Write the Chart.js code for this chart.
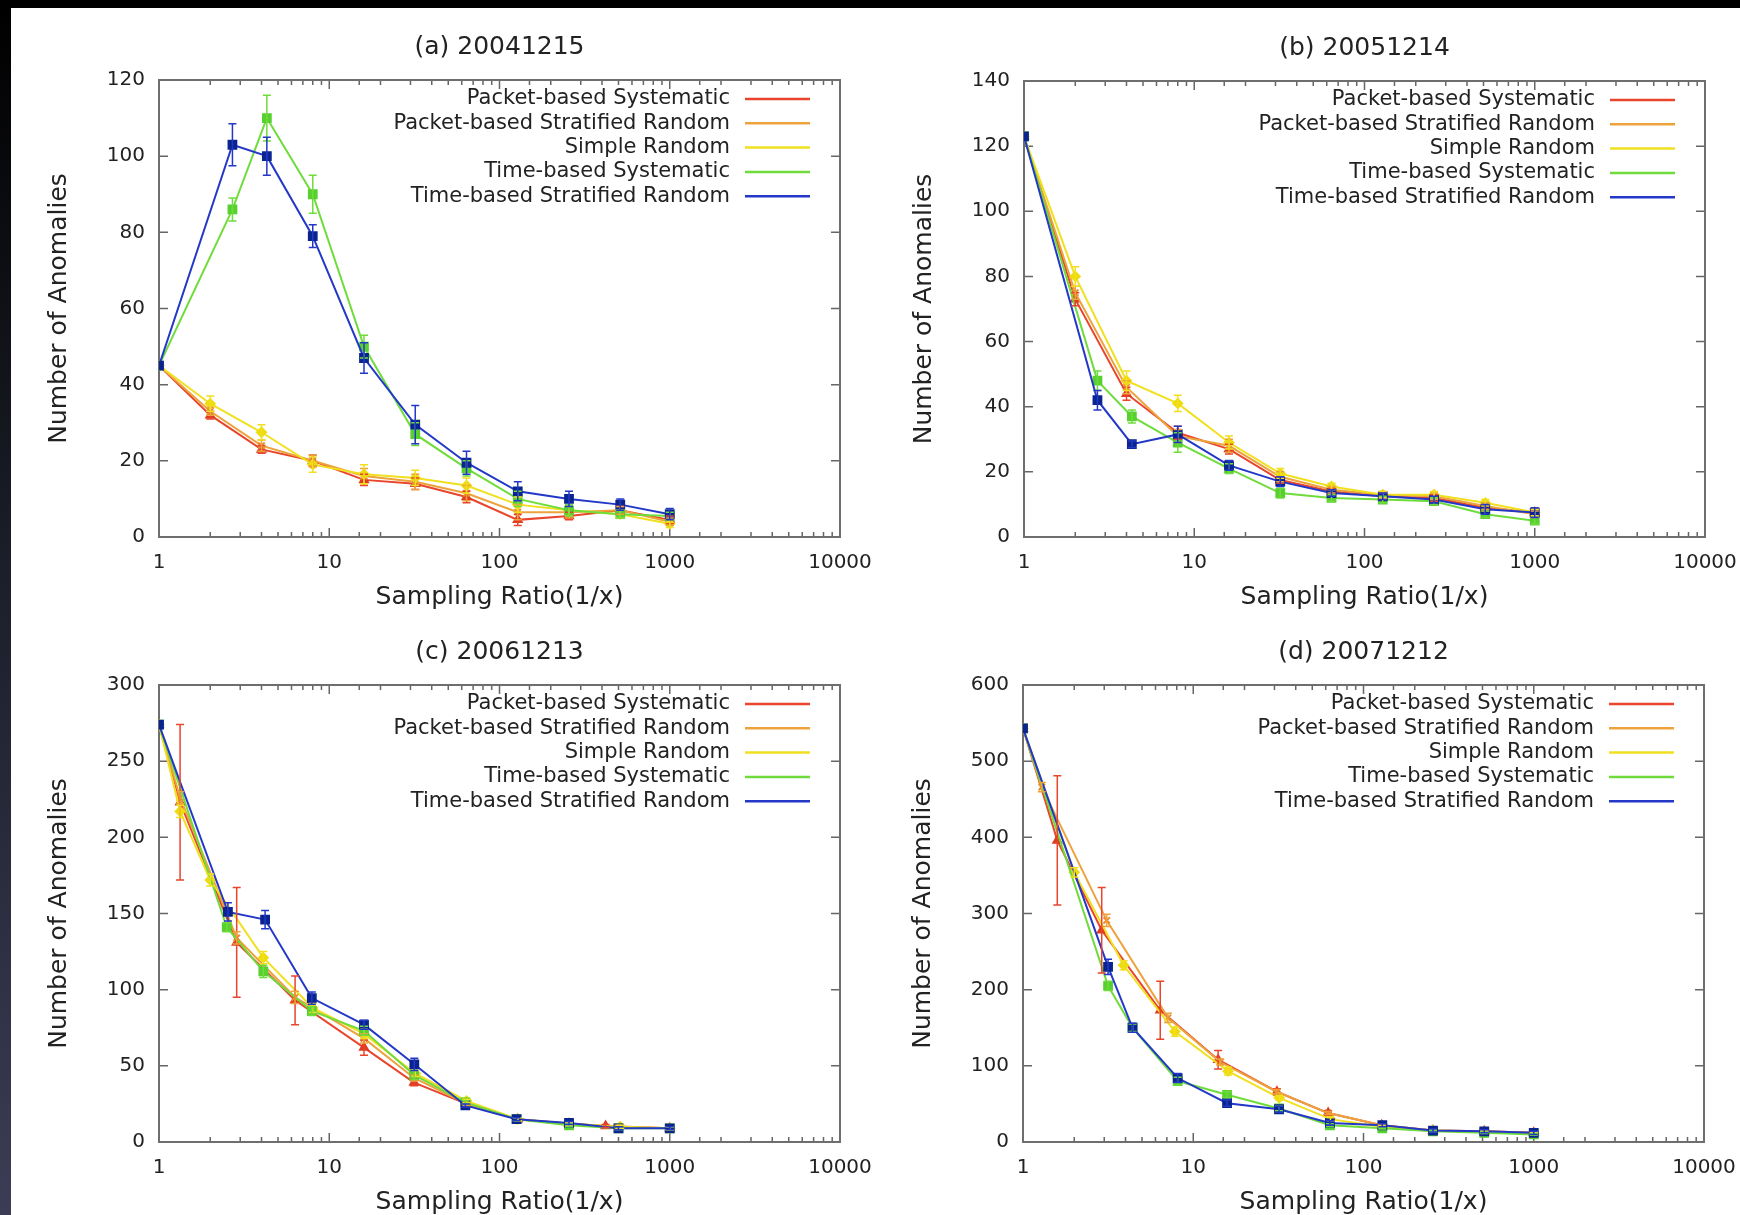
<!DOCTYPE html>
<html>

<head>
    <meta charset="utf-8">
    <title>Number of Anomalies vs Sampling Ratio</title>
    <style>
        html, body { margin: 0; padding: 0; }
        body { width: 1740px; height: 1215px; overflow: hidden; background: #fff; position: relative; }
        #topband { position: absolute; left: 0; top: 0; width: 1740px; height: 8px; background: #000; }
        #leftband { position: absolute; left: 0; top: 0; width: 11px; height: 1215px; background: linear-gradient(#000 0%, #15171f 35%, #3a3d55 100%); }
        canvas { position: absolute; }
    </style>
</head>

<body>
    <div id="topband"></div>
    <div id="leftband"></div>
    <canvas id="chartA" width="900" height="630" style="left:0px;top:0px"></canvas>
    <canvas id="chartB" width="900" height="630" style="left:870px;top:0px"></canvas>
    <canvas id="chartC" width="900" height="630" style="left:0px;top:600px"></canvas>
    <canvas id="chartD" width="900" height="630" style="left:870px;top:600px"></canvas>

    <script src="https://cdn.jsdelivr.net/npm/chart.js@4.4.1/dist/chart.umd.min.js"></script>
    <script type="text/javascript">
        // series names (legend order)
        const seriesNames = ['Packet-based Systematic', 'Packet-based Stratified Random', 'Simple Random',
            'Time-based Systematic', 'Time-based Stratified Random'];
        const panelTitles = ['(a) 20041215', '(b) 20051214', '(c) 20061213', '(d) 20071212'];
        const xTickLabels = [1, 10, 100, 1000, 10000];
        const yMax = [120, 140, 300, 600];
        const yStep = [20, 20, 50, 100];

        // each point: [sampling ratio, anomalies, error]
        // (a) 20041215
        const a_pktSys = [[1, 45, 0], [2, 32, 1], [4, 23, 1], [8, 20, 1.5], [16, 15, 1.5], [32, 14, 1.5], [64, 10.5, 1.5], [128, 4.5, 1.5], [256, 5.5, 1], [512, 7, 1], [1000, 4.5, 1]];
        const a_pktStr = [[1, 45, 0], [2, 33, 1], [4, 24, 1.5], [8, 20, 1.5], [16, 16, 2], [32, 14.5, 2], [64, 11.5, 2], [128, 6.5, 2], [256, 6.5, 1.5], [512, 7, 1], [1000, 4, 1]];
        const a_simRnd = [[1, 45, 0], [2, 35, 2], [4, 27.5, 2], [8, 19, 2], [16, 16.5, 2.5], [32, 15.5, 2], [64, 13.5, 2], [128, 8.5, 2], [256, 7, 1.5], [512, 6, 1], [1000, 3.5, 1]];
        const a_timSys = [[1, 45, 0], [2.7, 86, 3], [4.3, 110, 6], [8, 90, 5], [16, 50, 3], [32, 27, 3], [64, 18, 2], [128, 10, 2], [256, 7, 1.5], [512, 6, 1], [1000, 5.5, 1]];
        const a_timStr = [[1, 45, 0], [2.7, 103, 5.5], [4.3, 100, 5], [8, 79, 3], [16, 47, 4], [32, 29.5, 5], [64, 19.5, 3], [128, 12, 2.5], [256, 10, 2], [512, 8.5, 1.5], [1000, 6, 1.5]];
        // (b) 20051214
        const b_pktSys = [[1, 123, 0], [2, 73, 2], [4, 44, 2], [8, 32, 2], [16, 27, 1.5], [32, 17.5, 1], [64, 14, 1], [128, 12.5, 1], [256, 12, 1], [512, 9, 1], [1000, 7.5, 1]];
        const b_pktStr = [[1, 123, 0], [2, 75, 2], [4, 46, 2], [8, 31, 2], [16, 28, 2], [32, 18.5, 1.5], [64, 14.5, 1], [128, 13, 1], [256, 12.5, 1], [512, 9.5, 1], [1000, 7, 1]];
        const b_simRnd = [[1, 123, 0], [2, 80, 3], [4, 48, 3], [8, 41, 2.5], [16, 29, 2], [32, 19.5, 1.5], [64, 15.5, 1], [128, 13, 1], [256, 13, 1], [512, 10.5, 1], [1000, 7.5, 1]];
        const b_timSys = [[1, 123, 0], [2.7, 48, 3], [4.3, 37, 2], [8, 29, 3], [16, 21, 1.5], [32, 13.5, 1.5], [64, 12, 1], [128, 11.5, 1], [256, 11, 1], [512, 7, 1], [1000, 5, 1]];
        const b_timStr = [[1, 123, 0], [2.7, 42, 3], [4.3, 28.5, 1], [8, 31.5, 2.5], [16, 22, 1.5], [32, 17, 1.5], [64, 13.5, 1], [128, 12.5, 1], [256, 11.5, 1], [512, 8.5, 1.5], [1000, 7.5, 1.5]];
        // (c) 20061213
        const c_pktSys = [[1, 274, 0], [1.33, 223, 51], [2.86, 131, 36], [6.3, 93, 16], [16, 62, 5], [31.5, 39, 2], [64, 25, 1], [128, 15, 1], [256, 12, 1], [420, 10.5, 1], [1000, 9, 1]];
        const c_pktStr = [[1, 274, 0], [1.33, 226, 4], [2.86, 134, 4], [6.3, 95, 4], [16, 68, 3], [31.5, 42, 2], [64, 25, 1], [128, 15, 1], [256, 12, 1], [500, 10, 1], [1000, 9, 1]];
        const c_simRnd = [[1, 274, 0], [1.33, 217, 4], [2, 172, 4], [4.1, 121, 4], [8, 88, 3], [16, 71, 3], [32, 45, 2], [64, 27, 1], [128, 15, 1], [256, 12, 1], [512, 10, 1], [1000, 9, 1]];
        const c_timSys = [[1, 274, 0], [2.5, 141, 3], [4.1, 112, 4], [7.9, 86, 3], [16, 73, 3], [31.5, 44, 3], [63, 26, 1], [126, 15, 1], [256, 11, 1], [500, 9, 1], [1000, 9, 1]];
        const c_timStr = [[1, 274, 0], [2.54, 151, 6], [4.2, 146, 6], [7.9, 94.5, 4], [16, 77, 3], [31.6, 51, 4], [63, 24, 1], [126, 15, 1], [256, 12.5, 1], [500, 9, 1], [1000, 9, 1]];
        // (d) 20071212
        const d_pktSys = [[1, 543, 0], [1.59, 396, 85], [2.9, 278, 56], [6.4, 173, 38], [14, 108, 12], [31, 66, 4], [62, 38, 3], [128, 22, 1], [256, 15, 1], [512, 14, 1], [1000, 12, 1]];
        const d_pktStr = [[1, 543, 0], [1.29, 466, 6], [3.1, 291, 8], [7.1, 163, 6], [14.4, 105, 4], [31, 66, 3], [62, 38, 2], [128, 22, 1], [256, 15, 1], [512, 14, 1], [1000, 12, 1]];
        const d_simRnd = [[1, 543, 0], [2, 354, 6], [3.9, 232, 6], [7.8, 145, 6], [16, 93, 5], [32, 58, 3], [64, 30, 2], [128, 20, 1], [256, 15, 1], [512, 13, 1], [1000, 11, 1]];
        const d_timSys = [[1, 543, 0], [3.16, 205, 6], [4.4, 150, 5], [8.1, 80, 5], [15.8, 62, 4], [31.9, 44, 3], [63.5, 22, 2], [129, 18, 1], [256, 14, 1], [512, 12, 1], [1000, 10, 1]];
        const d_timStr = [[1, 543, 0], [3.16, 230, 10], [4.4, 150, 6], [8.1, 84, 6], [15.8, 51, 4], [31.9, 43, 4], [63.5, 25, 3], [129, 22, 2], [256, 15, 2], [512, 14, 2], [1000, 12, 2]];

        const lineColors = ['#e8452c', '#eda23c', '#f0e020', '#6fdc3c', '#2438c8'];
        const markColors = ['#e03a20', '#e89030', '#eedc10', '#58d030', '#0a2590'];
        const markStyles = ['triangle', 'crossRot', 'rectRot', 'rect', 'rect'];
        const drawOrder = [4, 3, 2, 1, 0];

        Chart.defaults.font.family = "'DejaVu Sans', sans-serif";
        Chart.defaults.color = '#222';

        function isDecade(v) {
            const l = Math.log10(v);
            return Math.abs(l - Math.round(l)) < 1e-9;
        }

        // gnuplot style border with inward ticks
        const frameTicks = {
            id: 'frameTicks',
            beforeDatasetsDraw(chart) {
                const { ctx, chartArea: a, scales: { x, y } } = chart;
                ctx.save();
                ctx.strokeStyle = '#666';
                ctx.lineWidth = 1.5;
                ctx.beginPath();
                x.ticks.forEach(t => {
                    const px = x.getPixelForValue(t.value);
                    const len = isDecade(t.value) ? 9 : 5;
                    ctx.moveTo(px, a.bottom); ctx.lineTo(px, a.bottom - len);
                    ctx.moveTo(px, a.top); ctx.lineTo(px, a.top + len);
                });
                y.ticks.forEach(t => {
                    const py = y.getPixelForValue(t.value);
                    ctx.moveTo(a.left, py); ctx.lineTo(a.left + 9, py);
                    ctx.moveTo(a.right, py); ctx.lineTo(a.right - 9, py);
                });
                ctx.stroke();
                ctx.lineWidth = 2;
                ctx.strokeStyle = '#6e6e6e';
                ctx.strokeRect(a.left, a.top, a.right - a.left, a.bottom - a.top);
                ctx.restore();
            }
        };

        const errorBars = {
            id: 'errorBars',
            afterDatasetsDraw(chart) {
                const { ctx, scales: { x, y } } = chart;
                ctx.save();
                ctx.lineWidth = 1.5;
                chart.data.datasets.forEach(ds => {
                    ctx.strokeStyle = ds.borderColor;
                    ctx.beginPath();
                    ds.errs.forEach((e, j) => {
                        if (!e) return;
                        const p = ds.data[j];
                        const px = x.getPixelForValue(p.x);
                        const lo = y.getPixelForValue(p.y - e);
                        const hi = y.getPixelForValue(p.y + e);
                        ctx.moveTo(px, lo); ctx.lineTo(px, hi);
                        ctx.moveTo(px - 4, lo); ctx.lineTo(px + 4, lo);
                        ctx.moveTo(px - 4, hi); ctx.lineTo(px + 4, hi);
                    });
                    ctx.stroke();
                });
                ctx.restore();
            }
        };

        // panel title and key drawn inside the plot, like gnuplot
        const panelKey = {
            id: 'panelKey',
            afterDraw(chart, args, opts) {
                const { ctx, chartArea: a } = chart;
                ctx.save();
                ctx.fillStyle = '#222';
                ctx.textAlign = 'center';
                ctx.textBaseline = 'middle';
                ctx.font = "25px 'DejaVu Sans'";
                ctx.fillText(opts.title, (a.left + a.right) / 2, a.top - 33);
                ctx.font = "21px 'DejaVu Sans'";
                ctx.textAlign = 'right';
                ctx.lineWidth = 2.5;
                chart.data.datasets.forEach((ds, i) => {
                    const yy = a.top + 19 + i * 24.3;
                    ctx.fillText(ds.label, a.right - 110, yy);
                    ctx.strokeStyle = ds.borderColor;
                    ctx.beginPath();
                    ctx.moveTo(a.right - 95, yy); ctx.lineTo(a.right - 30, yy);
                    ctx.stroke();
                });
                ctx.restore();
            }
        };

        function makePanel(id, idx, series, cv, fr) {
            const datasets = series.map((s, i) => ({
                label: seriesNames[i],
                data: s.map(p => ({ x: p[0], y: p[1] })),
                errs: s.map(p => p[2]),
                borderColor: lineColors[i],
                backgroundColor: markColors[i],
                pointBorderColor: markColors[i],
                pointStyle: markStyles[i],
                pointRadius: i >= 3 ? 5.5 : 4.5,
                pointBorderWidth: 2,
                borderWidth: 2,
                order: drawOrder[i],
                tension: 0
            }));
            return new Chart(document.getElementById(id), {
                type: 'line',
                data: { datasets: datasets },
                options: {
                    responsive: false,
                    animation: false,
                    layout: { padding: { left: 0, top: fr.t - cv.y, right: cv.x + cv.w - fr.r, bottom: 0 } },
                    scales: {
                        x: {
                            type: 'logarithmic',
                            min: 1,
                            max: 10000,
                            grid: { display: false, drawTicks: false },
                            border: { display: false },
                            ticks: {
                                autoSkip: false,
                                maxRotation: 0,
                                padding: 14,
                                font: { size: 20 },
                                callback: v => (xTickLabels.includes(v) ? String(v) : '')
                            },
                            title: {
                                display: true,
                                text: 'Sampling Ratio(1/x)',
                                font: { size: 25 },
                                padding: { top: 0, bottom: (cv.y + cv.h) - (fr.b + 60) - 15 }
                            },
                            afterFit: s => { s.height = cv.y + cv.h - fr.b; }
                        },
                        y: {
                            min: 0,
                            max: yMax[idx],
                            grid: { display: false, drawTicks: false },
                            border: { display: false },
                            ticks: { stepSize: yStep[idx], padding: 14, font: { size: 20 } },
                            title: {
                                display: true,
                                text: 'Number of Anomalies',
                                font: { size: 25 },
                                padding: { top: (fr.l - 100 - cv.x) - 15, bottom: 0 }
                            },
                            afterFit: s => { s.width = fr.l - cv.x; }
                        }
                    },
                    plugins: {
                        legend: { display: false },
                        tooltip: { enabled: false },
                        panelKey: { title: panelTitles[idx] }
                    }
                },
                plugins: [frameTicks, errorBars, panelKey]
            });
        }

        makePanel('chartA', 0, [a_pktSys, a_pktStr, a_simRnd, a_timSys, a_timStr],
            { x: 0, y: 0, w: 900, h: 630 }, { l: 159, t: 80, r: 840, b: 537 });
        makePanel('chartB', 1, [b_pktSys, b_pktStr, b_simRnd, b_timSys, b_timStr],
            { x: 870, y: 0, w: 900, h: 630 }, { l: 1024, t: 81, r: 1705, b: 537 });
        makePanel('chartC', 2, [c_pktSys, c_pktStr, c_simRnd, c_timSys, c_timStr],
            { x: 0, y: 600, w: 900, h: 630 }, { l: 159, t: 685, r: 840, b: 1142 });
        makePanel('chartD', 3, [d_pktSys, d_pktStr, d_simRnd, d_timSys, d_timStr],
            { x: 870, y: 600, w: 900, h: 630 }, { l: 1023, t: 685, r: 1704, b: 1142 });
    </script>
</body>

</html>
